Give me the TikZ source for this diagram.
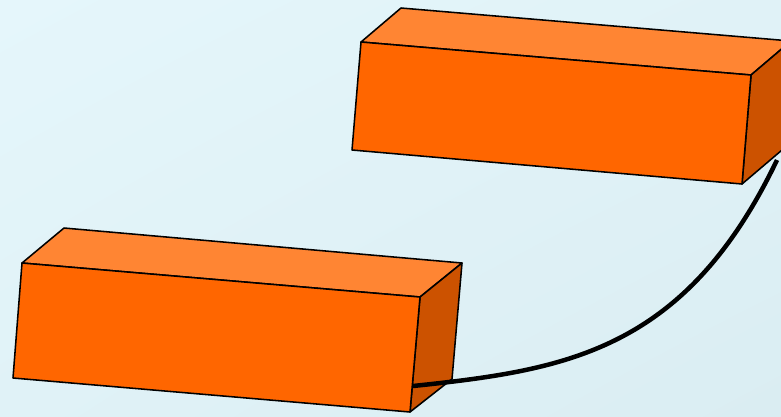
\documentclass[tikz,border=0pt]{standalone}
\usetikzlibrary{shadings}
\definecolor{bgtl}{HTML}{E5F6FB}
\definecolor{bgmid}{HTML}{E0F2F7}
\definecolor{bgbr}{HTML}{DAEDF2}
\definecolor{frontface}{HTML}{FF6600}
\definecolor{topface}{HTML}{FF8533}
\definecolor{sideface}{HTML}{CC5200}
\tikzset{
  face/.style={draw=black, line width=1.1pt, line join=round},
  wire/.style={draw=black, line width=3.2pt, line cap=butt}
}
\begin{document}
\begin{tikzpicture}[x=0.025cm,y=-0.025cm]
        % background
        \useasboundingbox (0,0) rectangle (781,416);
        \clip (0,0) rectangle (781,416);
        \shade [upper left=bgtl, upper right=bgmid, lower left=bgmid, lower right=bgbr] (0,0) rectangle (781,416);
        % upper box
        \draw [face, fill=topface] (361,42) -- (401,8) -- (791,41) -- (751,75) -- cycle;
        \draw [face, fill=sideface] (751,75) -- (791,41) -- (782,150) -- (742,184) -- cycle;
        \draw [face, fill=frontface] (361,42) -- (751,75) -- (742,184) -- (352,150) -- cycle;
        % lower box
        \draw [face, fill=topface] (22,263) -- (64,228) -- (462,263) -- (420,297) -- cycle;
        \draw [face, fill=sideface] (420,297) -- (462,263) -- (452,379) -- (410,412) -- cycle;
        \draw [face, fill=frontface] (22,263) -- (420,297) -- (410,412) -- (13,378) -- cycle;
        % wire
        \coordinate (wirestart) at (413,386);
        \coordinate (wireend) at (777,160);
        \draw [wire] (wirestart) .. controls (565,370) and (685,352) .. (wireend);
\end{tikzpicture}
\end{document}
